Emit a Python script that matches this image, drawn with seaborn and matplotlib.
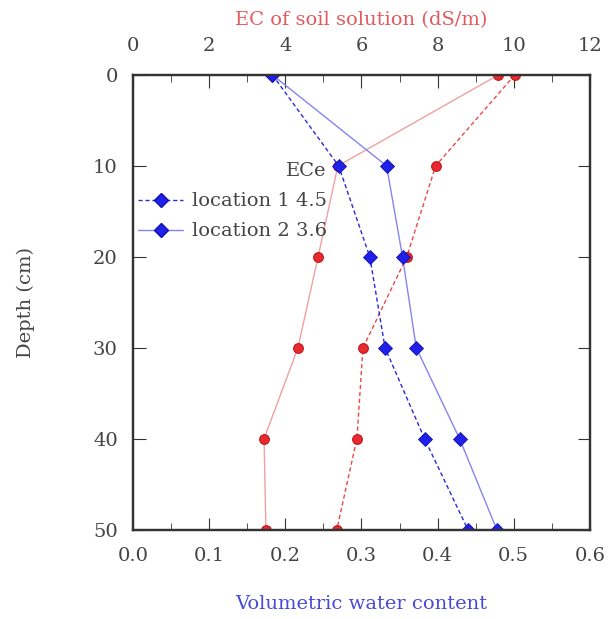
#!/usr/bin/env python3

import pandas as pd
import seaborn as sns
import matplotlib.pyplot as plt
from matplotlib.lines import Line2D
from matplotlib.ticker import MultipleLocator

depth = [0, 10, 20, 30, 40, 50]

# volumetric water content (bottom axis)
vwc_loc1 = [0.183, 0.270, 0.311, 0.331, 0.383, 0.440]
vwc_loc2 = [0.183, 0.333, 0.354, 0.372, 0.429, 0.478]

# EC of soil solution, dS/m (top axis)
ec_loc1 = [10.03, 7.95, 7.19, 6.04, 5.88, 5.35]
ec_loc2 = [9.60, 5.38, 4.86, 4.33, 3.44, 3.49]

legend_labels = ["location 1 4.5", "location 2 3.6"]

BLUE_DARK = "#2a2ad8"
BLUE_LIGHT = "#8585f0"
RED_DARK = "#e8484c"
RED_LIGHT = "#f2a0a2"
TXT = "#444444"


def main():
    sns.set_style("ticks")
    plt.rcParams["font.family"] = ["DejaVu Serif"]
    plt.rcParams["font.size"] = 14

    vwc = pd.DataFrame({
        "depth": depth * 2,
        "value": vwc_loc1 + vwc_loc2,
        "loc": ["1"] * 6 + ["2"] * 6,
    })
    ec = pd.DataFrame({
        "depth": depth * 2,
        "value": ec_loc1 + ec_loc2,
        "loc": ["1"] * 6 + ["2"] * 6,
    })

    fig = plt.figure(figsize=(6.08, 6.19), dpi=100)
    ax = fig.add_axes([0.219, 0.144, 0.751, 0.735])
    ax2 = ax.twiny()

    # EC curves on top axis
    for loc, ls, lc in [("1", (0, (3, 2)), RED_DARK), ("2", "-", RED_LIGHT)]:
        d = ec[ec["loc"] == loc]
        sns.lineplot(ax=ax2, data=d, x="value", y="depth", sort=False,
                     orient="y", color=lc, linestyle=ls, linewidth=1.0,
                     marker="o", markersize=7, markerfacecolor="#e82a30",
                     markeredgecolor="#c01818", markeredgewidth=0.8)

    # water content curves on bottom axis
    for loc, ls, lc in [("1", (0, (3, 2)), BLUE_DARK), ("2", "-", BLUE_LIGHT)]:
        d = vwc[vwc["loc"] == loc]
        sns.lineplot(ax=ax, data=d, x="value", y="depth", sort=False,
                     orient="y", color=lc, linestyle=ls, linewidth=1.0,
                     marker="D", markersize=7, markerfacecolor="#2020e8",
                     markeredgecolor="#1010b0", markeredgewidth=0.6)

    ax.set_zorder(ax2.get_zorder() + 1)
    ax.patch.set_visible(False)

    ax.set_xlim(0, 0.6)
    ax2.set_xlim(0, 12)
    ax.set_ylim(50, 0)

    ax.xaxis.set_major_locator(MultipleLocator(0.1))
    ax.xaxis.set_minor_locator(MultipleLocator(0.05))
    ax.xaxis.set_major_formatter(plt.FuncFormatter(lambda v, p: f"{v:.1f}"))
    ax2.xaxis.set_major_locator(MultipleLocator(2))
    ax2.xaxis.set_minor_locator(MultipleLocator(1))
    ax.yaxis.set_major_locator(MultipleLocator(10))

    ax.tick_params(axis="both", which="both", direction="in", colors="#333333",
                   labelcolor=TXT)
    ax.tick_params(axis="x", which="major", length=9, pad=12)
    ax.tick_params(axis="x", which="minor", length=5)
    ax.tick_params(axis="y", which="major", length=9, right=True, pad=11)
    ax.tick_params(axis="x", top=False, which="both")
    ax2.tick_params(axis="x", which="major", direction="in", length=9, pad=14,
                    colors="#333333", labelcolor=TXT)
    ax2.tick_params(axis="x", which="minor", direction="in", length=5,
                    colors="#333333")

    for a in (ax, ax2):
        for s in a.spines.values():
            s.set_linewidth(1.6)
            s.set_color("#333333")

    ax.set_xlabel("Volumetric water content", color="#4a4ad8", labelpad=22)
    ax2.set_xlabel("EC of soil solution (dS/m)", color="#e25a5e", labelpad=9)
    ax.set_ylabel("Depth (cm)", color=TXT, labelpad=42)
    ax2.set_ylabel("")

    handles = [
        Line2D([], [], color=BLUE_DARK, linestyle=(0, (3, 2)), linewidth=1.0,
               marker="D", markersize=7, markerfacecolor="#2020e8",
               markeredgecolor="#1010b0"),
        Line2D([], [], color=BLUE_LIGHT, linestyle="-", linewidth=1.0,
               marker="D", markersize=7, markerfacecolor="#2020e8",
               markeredgecolor="#1010b0"),
    ]
    leg = ax.legend(handles, legend_labels, title="ECe", frameon=False,
                    loc="upper left", bbox_to_anchor=(0.011, 0.808),
                    handlelength=2.3, handletextpad=0.45, labelspacing=0.62,
                    borderaxespad=0, borderpad=0, labelcolor=TXT)
    leg.get_title().set_color(TXT)
    leg.get_title().set_fontsize(14)
    leg._legend_box.align = "right"

    fig.savefig("out.png", dpi=100)


if __name__ == "__main__":
    main()
